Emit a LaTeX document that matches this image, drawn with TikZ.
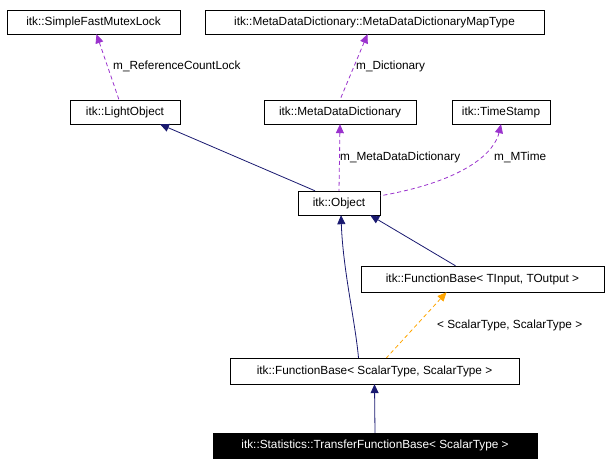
\documentclass[tikz,border=0pt]{standalone}
\usepackage{fontspec}
\setmainfont{Liberation Sans}
\usetikzlibrary{arrows.meta,calc}
\definecolor{dpurple}{HTML}{9A32CD}
\definecolor{dnavy}{HTML}{191970}
\definecolor{dorange}{HTML}{FFA500}
\begin{document}
\begin{tikzpicture}[x=1pt,y=-1pt,
 box/.style={draw,fill=white,minimum height=24pt,inner sep=0pt,font=\fontsize{11.8}{13}\selectfont},
 lbl/.style={font=\fontsize{11.8}{13}\selectfont,inner sep=1pt,anchor=west},
 inh/.style={draw=dnavy,line width=0.8pt,{Triangle[length=9pt,width=8pt]}-},
 use/.style={draw=dpurple,line width=0.8pt,dash pattern=on 4pt off 3pt,{Triangle[length=9pt,width=8pt]}-},
 tmpl/.style={draw=dorange,line width=0.8pt,dash pattern=on 4pt off 3pt,{Triangle[length=9pt,width=8pt]}-}]
\useasboundingbox (0,0) rectangle (611,468);
\node[box,minimum width=173pt] (mutex) at (93.5,22) {itk::SimpleFastMutexLock};
\node[box,minimum width=339pt] (map) at (374.5,22) {itk::MetaDataDictionary::MetaDataDictionaryMapType};
\node[box,minimum width=110pt] (lo) at (125,112) {itk::LightObject};
\node[box,minimum width=152pt] (mdd) at (340,112) {itk::MetaDataDictionary};
\node[box,minimum width=98pt] (ts) at (501,112) {itk::TimeStamp};
\node[box,minimum width=82pt] (obj) at (339,203) {itk::Object};
\node[box,minimum width=243pt,minimum height=26pt] (fbt) at (482.5,279) {itk::FunctionBase< TInput, TOutput >};
\node[box,minimum width=289pt,minimum height=26pt] (fbs) at (374.5,371) {itk::FunctionBase< ScalarType, ScalarType >};
\node[box,fill=black,text=white,minimum width=324pt,minimum height=25pt] (tfb) at (375,445.5) {itk::Statistics::TransferFunctionBase< ScalarType >};
\draw[use] ($(mutex.south)+(3,0)$) -- ($(lo.north)+(-6,0)$);
\draw[inh] ($(lo.south)+(35,0)$) -- ($(obj.north)+(-24,0)$);
\draw[use] ($(map.south)+(-7,0)$) -- (mdd.north);
\draw[use] (mdd.south) -- (obj.north);
\draw[use] (ts.south) .. controls (495,150) and (470,180) .. ($(obj.north east)+(0,5)$);
\draw[inh] ($(obj.south east)+(-10,0)$) -- ($(fbt.north)+(-27,0)$);
\draw[inh] ($(obj.south)+(2,0)$) .. controls (343,270) and (355,320) .. ($(fbs.north)+(-16,0)$);
\draw[tmpl] ($(fbt.south)+(-36,0)$) -- ($(fbs.north)+(12,0)$);
\draw[inh] (fbs.south) -- (tfb.north);
\node[lbl] at (112,66) {m\_ReferenceCountLock};
\node[lbl] at (355,66) {m\_Dictionary};
\node[lbl] at (339,157) {m\_MetaDataDictionary};
\node[lbl] at (493,157) {m\_MTime};
\node[lbl] at (436,325) {< ScalarType, ScalarType >};
\end{tikzpicture}
\end{document}
